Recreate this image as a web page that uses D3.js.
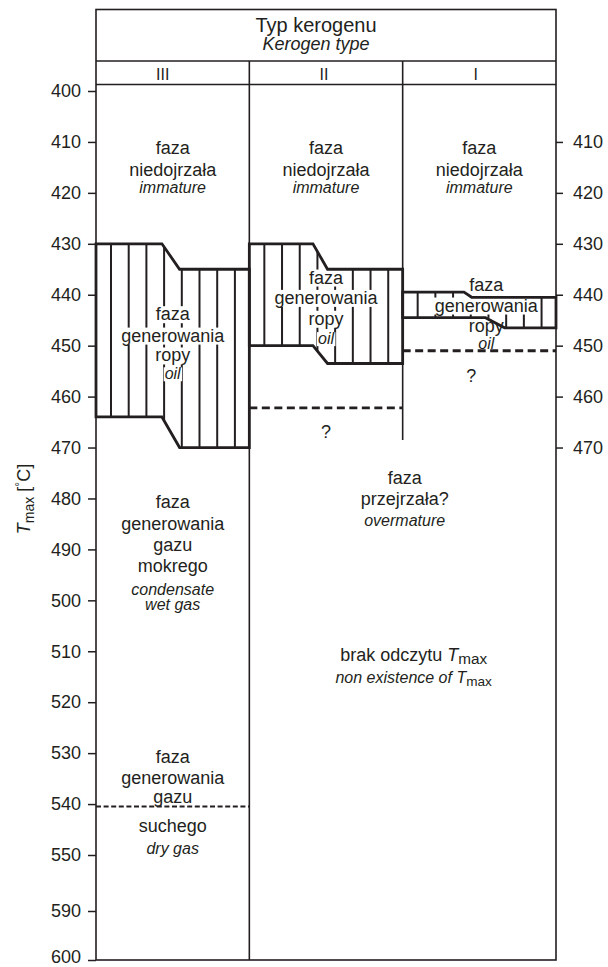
<!DOCTYPE html>
<html><head><meta charset="utf-8">
<script src="https://cdn.jsdelivr.net/npm/d3@7"></script>
<style>
html,body{margin:0;padding:0;background:#fff;}
svg{display:block;font-family:"Liberation Sans",Arial,Helvetica,sans-serif;}
</style></head><body>
<svg id="chart" width="608" height="967"></svg>
<script>
// ---- data -------------------------------------------------------------
const kerogenTypes = ["III", "II", "I"];
const leftTicks  = [400,410,420,430,440,450,460,470,480,490,500,510,520,530,540,550,590,600];
const rightTicks = [410,420,430,440,450,460,470];

// oil window per kerogen type: [before step, after step] in °C
const oilTop    = [[430, 435], [430, 435],   [439.5, 440.5]];
const oilBottom = [[464, 470], [450, 453.5], [444.5, 446.5]];

// uncertain boundaries (dashed), °C
const oilBaseUncertain = [null, 462.2, 451];   // per kerogen type
const wetDryBoundary = 540.5;                   // type III
const dividerIIEnd = 468.5;                     // II | I column rule ends here

// phase captions: each line sits on a baseline given in °C
const immatureLines = [
  {text: "faza", at: 412.4},
  {text: "niedojrzała", at: 416.7},
  {text: "immature", at: 420.1, italic: true}
];
const oilTexts = ["faza", "generowania", "ropy", "oil"];
const oilLineAt = [
  [445.0, 449.2, 453.1, 456.6],
  [437.8, 441.8, 445.9, 449.7],
  [439.2, 443.3, 447.3, 450.7]
];
const wetGasLines = [
  {text: "faza", at: 481.9}, {text: "generowania", at: 486.2},
  {text: "gazu", at: 490.3}, {text: "mokrego", at: 494.4},
  {text: "condensate", at: 498.9, italic: true}, {text: "wet gas", at: 501.9, italic: true}
];
const dryGasLines = [
  {text: "faza", at: 531.9}, {text: "generowania", at: 536.1},
  {text: "gazu", at: 539.7}, {text: "suchego", at: 545.4},
  {text: "dry gas", at: 549.8, italic: true}
];
const overmatureLines = [
  {text: "faza", at: 477.2}, {text: "przejrzała?", at: 481.3},
  {text: "overmature", at: 485.4, italic: true}
];
const noTmaxLines = [
  {text: "brak odczytu Tmax", at: 512.0},
  {text: "non existence of Tmax", at: 516.3, italic: true}
];
const questionAt = [null, 468.1, 457.1];

// ---- layout -----------------------------------------------------------
const ink = "#231f20";
const frame = {left: 96, right: 556, top: 9.5, titleRule: 61, typeRule: 84.5};
// where the stepped edges start/end, as fraction of column width
const stepTop    = [[0.43, 0.545], [0.415, 0.51], [0.40, 0.45]];
const stepBottom = [[0.43, 0.545], [0.415, 0.51], [0.54, 0.665]];
const hatch = {offset: 15, step: 17.7};
const nudge = {oilI: 7, qI: -8, over: 2, noTmax: 11, title: -10, III: -10, II: -2, I: -3.5};

const svg = d3.select("#chart");
const y = d3.scaleLinear().domain([400, 550, 590, 600]).range([91, 855, 911, 960]);
const x = d3.scaleBand().domain(kerogenTypes).range([frame.left, frame.right]);
const bw = x.bandwidth();
const bottom = y(600);

const gGrid  = svg.append("g");
const gHatch = svg.append("g");
const gMask  = svg.append("g");
const gBand  = svg.append("g");
const gText  = svg.append("g").attr("fill", ink);

// ---- frame and column rules -------------------------------------------
gGrid.append("rect")
  .attr("x", frame.left).attr("y", frame.top)
  .attr("width", frame.right - frame.left).attr("height", bottom - frame.top)
  .attr("fill", "none").attr("stroke", ink).attr("stroke-width", 1.6);
[frame.titleRule, frame.typeRule].forEach(yy => {
  gGrid.append("line").attr("x1", frame.left).attr("x2", frame.right)
    .attr("y1", yy).attr("y2", yy).attr("stroke", ink).attr("stroke-width", 1.6);
});
gGrid.append("line").attr("x1", x("II")).attr("x2", x("II"))
  .attr("y1", frame.titleRule).attr("y2", bottom).attr("stroke", ink).attr("stroke-width", 1.6);
gGrid.append("line").attr("x1", x("I")).attr("x2", x("I"))
  .attr("y1", frame.titleRule).attr("y2", y(dividerIIEnd)).attr("stroke", ink).attr("stroke-width", 1.6);

// ---- axes -------------------------------------------------------------
const axisL = svg.append("g").attr("transform", `translate(${frame.left},0)`)
  .call(d3.axisLeft(y).tickValues(leftTicks).tickSize(8).tickPadding(7));
const axisR = svg.append("g").attr("transform", `translate(${frame.right},0)`)
  .call(d3.axisRight(y).tickValues(rightTicks).tickSize(7).tickPadding(10));
[axisL, axisR].forEach(a => {
  a.select(".domain").remove();
  a.selectAll(".tick line").attr("stroke", ink).attr("stroke-width", 1.5);
  a.selectAll(".tick text").attr("fill", ink).attr("font-size", 18)
    .attr("font-family", "Liberation Sans, Arial, sans-serif");
});
// keep the lowest label inside the page
axisL.selectAll(".tick text").filter(d => d === 600).attr("dy", "0.12em");

// axis title: T_max [°C]
const title = svg.append("text").attr("fill", ink).attr("font-size", 18)
  .attr("text-anchor", "middle")
  .attr("transform", `translate(30,499) rotate(-90)`);
title.append("tspan").attr("font-style", "italic").text("T");
title.append("tspan").attr("font-size", 14).attr("dy", 4).text("max");
title.append("tspan").attr("dy", -4).text(" [");
title.append("tspan").attr("font-size", 12).attr("dy", -6).text("°");
title.append("tspan").attr("dy", 6).text("C]");

// ---- header -----------------------------------------------------------
const headCx = (frame.left + frame.right) / 2 + nudge.title;
gText.append("text").attr("x", headCx).attr("y", 31.5).attr("text-anchor", "middle")
  .attr("font-size", 20).text("Typ kerogenu");
gText.append("text").attr("x", headCx).attr("y", 50).attr("text-anchor", "middle")
  .attr("font-size", 18).attr("font-style", "italic").text("Kerogen type");
gText.selectAll("text.type").data(kerogenTypes).join("text").attr("class", "type")
  .attr("x", d => x(d) + bw / 2 + nudge[d]).attr("y", 80)
  .attr("text-anchor", "middle").attr("font-size", 16).text(d => d);

// ---- oil window bands -------------------------------------------------
function edgeAt(edge, step, t) {
  if (t <= step[0]) return edge[0];
  if (t >= step[1]) return edge[1];
  return edge[0] + (edge[1] - edge[0]) * (t - step[0]) / (step[1] - step[0]);
}
kerogenTypes.forEach((k, i) => {
  const x0 = x(k), x1 = x0 + bw;
  const top = oilTop[i], bot = oilBottom[i], st = stepTop[i], sb = stepBottom[i];
  // vertical hatching
  for (let xs = x0 + hatch.offset; xs < x1 - 6; xs += hatch.step) {
    const t = (xs - x0) / bw;
    gHatch.append("line").attr("x1", xs).attr("x2", xs)
      .attr("y1", y(edgeAt(top, st, t))).attr("y2", y(edgeAt(bot, sb, t)))
      .attr("stroke", ink).attr("stroke-width", 2);
  }
  const pts = [
    [x0, y(top[0])], [x0 + bw * st[0], y(top[0])], [x0 + bw * st[1], y(top[1])], [x1, y(top[1])],
    [x1, y(bot[1])], [x0 + bw * sb[1], y(bot[1])], [x0 + bw * sb[0], y(bot[0])], [x0, y(bot[0])]
  ];
  gBand.append("path").attr("d", d3.line()(pts) + "Z")
    .attr("fill", "none").attr("stroke", ink).attr("stroke-width", 2.8)
    .attr("stroke-linejoin", "miter");
  if (oilBaseUncertain[i] != null) {
    gBand.append("line").attr("x1", x0).attr("x2", x1)
      .attr("y1", y(oilBaseUncertain[i])).attr("y2", y(oilBaseUncertain[i]))
      .attr("stroke", ink).attr("stroke-width", 2.8).attr("stroke-dasharray", "8,4.5");
  }
});
gBand.append("line").attr("x1", x("III")).attr("x2", x("III") + bw)
  .attr("y1", y(wetDryBoundary)).attr("y2", y(wetDryBoundary))
  .attr("stroke", ink).attr("stroke-width", 2).attr("stroke-dasharray", "5,2.6");

// ---- captions ---------------------------------------------------------
function caption(lines, cx) {
  lines.forEach(l => {
    const t = gText.append("text").attr("x", cx).attr("y", y(l.at))
      .attr("text-anchor", "middle").attr("font-size", l.italic ? 16 : 18)
      .attr("font-style", l.italic ? "italic" : "normal");
    const parts = l.text.split("Tmax");
    parts.forEach((p, j) => {
      if (p) t.append("tspan").text(p);
      if (j < parts.length - 1) {
        t.append("tspan").attr("font-style", "italic").text("T");
        t.append("tspan").attr("font-style", "normal").attr("font-size", "0.85em")
          .attr("dy", 3).text("max");
      }
    });
    // white ground behind the caption so hatching breaks around it
    const b = t.node().getBBox();
    gMask.append("rect").attr("x", b.x - 1).attr("y", b.y + 2)
      .attr("width", b.width + 2).attr("height", b.height - 3).attr("fill", "#fff");
  });
}
const colC = k => x(k) + bw / 2;
kerogenTypes.forEach(k => caption(immatureLines, colC(k)));
kerogenTypes.forEach((k, i) => {
  const lines = oilTexts.map((t, j) => ({text: t, at: oilLineAt[i][j], italic: t === "oil"}));
  caption(lines, colC(k) + (k === "I" ? nudge.oilI : 0));
  if (questionAt[i] != null)
    caption([{text: "?", at: questionAt[i]}], colC(k) + (k === "I" ? nudge.qI : 0));
});
caption(wetGasLines, colC("III"));
caption(dryGasLines, colC("III"));
const spanC = (x("II") + frame.right) / 2;
caption(overmatureLines, spanC + nudge.over);
caption(noTmaxLines, spanC + nudge.noTmax);
</script>
</body></html>
